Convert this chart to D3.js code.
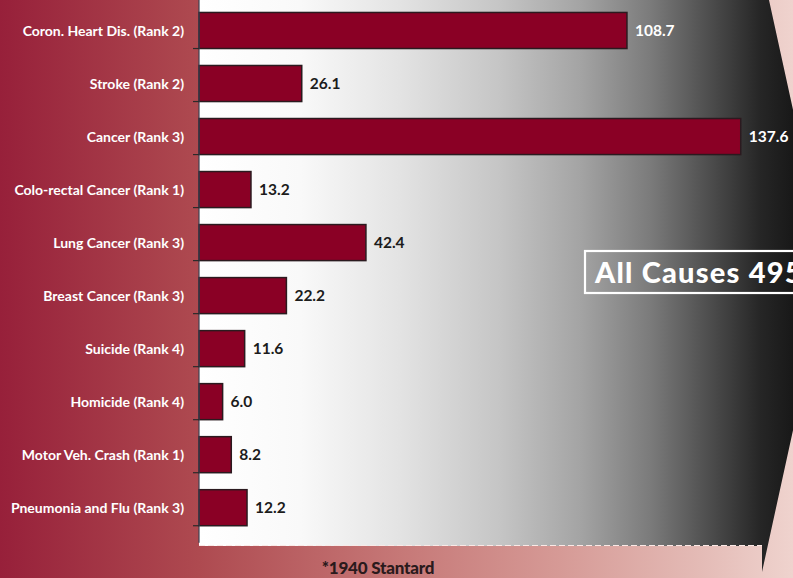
<!DOCTYPE html>
<html>
<head>
<meta charset="utf-8">
<script src="https://cdn.jsdelivr.net/npm/d3@7/dist/d3.min.js"></script>
<style>
  html, body { margin: 0; padding: 0; background: #fff; }
  svg { display: block; font-family: Lato, "Open Sans", sans-serif; }
</style>
</head>
<body>
<svg id="chart" width="793" height="578"></svg>
<script>
// Age-adjusted death rates by cause (per 100,000, 1940 standard)
const causes = [
  "Coron. Heart Dis. (Rank 2)",
  "Stroke (Rank 2)",
  "Cancer (Rank 3)",
  "Colo-rectal Cancer (Rank 1)",
  "Lung Cancer (Rank 3)",
  "Breast Cancer (Rank 3)",
  "Suicide (Rank 4)",
  "Homicide (Rank 4)",
  "Motor Veh. Crash (Rank 1)",
  "Pneumonia and Flu (Rank 3)"
];
const rates = [108.7, 26.1, 137.6, 13.2, 42.4, 22.2, 11.6, 6.0, 8.2, 12.2];
const allCausesLabel = "All Causes 495";
const footnote = "*1940 Stantard";

const W = 793, H = 578;
const plot = { left: 199, right: 762, top: -4.5, bottom: 542.7, floor: 546 };

const svg = d3.select("#chart");
const defs = svg.append("defs");

// page background: crimson fading to pale pink
const bgGrad = defs.append("linearGradient")
  .attr("id", "bgGrad").attr("gradientUnits", "userSpaceOnUse")
  .attr("x1", 0).attr("x2", W).attr("y1", 0).attr("y2", 0);
[[0, "#97203a"], [199, "#ae4a50"], [400, "#c67877"], [560, "#d69a96"],
 [700, "#e4bbb6"], [793, "#efd3ce"]].forEach(([x, c]) =>
  bgGrad.append("stop").attr("offset", x / W).attr("stop-color", c));

// plot panel: white fading to near-black
const panelGrad = defs.append("linearGradient")
  .attr("id", "panelGrad").attr("gradientUnits", "userSpaceOnUse")
  .attr("x1", 0).attr("x2", W).attr("y1", 0).attr("y2", 0);
[[199, "#ffffff"], [300, "#f9f9f9"], [400, "#e3e3e3"], [500, "#c5c5c5"],
 [580, "#a4a4a4"], [650, "#7b7b7b"], [710, "#4d4d4d"], [760, "#262626"],
 [793, "#181818"]].forEach(([x, c]) =>
  panelGrad.append("stop").attr("offset", x / W).attr("stop-color", c));

svg.append("rect").attr("width", W).attr("height", H).attr("fill", "url(#bgGrad)");

// arrow-shaped panel pointing right
const tip = [828, 270];
svg.append("path")
  .attr("d", d3.line()([
    [plot.left, 0], [769, 0], tip, [762, 572], [762, plot.floor], [plot.left, plot.floor]
  ]) + "Z")
  .attr("fill", "url(#panelGrad)");

const x = d3.scaleLinear().domain([0, 143]).range([plot.left, plot.right]);
const y = d3.scaleBand().domain(causes).range([plot.top, plot.bottom]).padding(0.32);

// faint baseline along the bottom of the panel
svg.append("line")
  .attr("x1", plot.left).attr("x2", plot.right)
  .attr("y1", plot.floor - 0.5).attr("y2", plot.floor - 0.5)
  .attr("stroke", "#fbe9e6").attr("stroke-width", 1)
  .attr("stroke-dasharray", "6,3");

// bars
svg.append("g").selectAll("rect")
  .data(causes)
  .join("rect")
  .attr("x", x(0))
  .attr("y", d => y(d))
  .attr("width", (d, i) => x(rates[i]) - x(0))
  .attr("height", y.bandwidth())
  .attr("fill", "#8a0025")
  .attr("stroke", "#2b1a1f")
  .attr("stroke-width", 1.5);

// category axis with ticks at band boundaries
const axisG = svg.append("g");
axisG.append("line")
  .attr("x1", plot.left).attr("x2", plot.left)
  .attr("y1", 0).attr("y2", plot.bottom)
  .attr("stroke", "#3b4150").attr("stroke-width", 1.2);
const bounds = d3.range(1, causes.length + 1).map(i => plot.top + i * y.step());
axisG.selectAll("line.tick")
  .data(bounds)
  .join("line").attr("class", "tick")
  .attr("x1", plot.left - 6).attr("x2", plot.left)
  .attr("y1", d => d).attr("y2", d => d)
  .attr("stroke", "#2a2a2a").attr("stroke-width", 1.2);

// category labels
svg.append("g").selectAll("text")
  .data(causes)
  .join("text")
  .attr("x", 184)
  .attr("y", d => y(d) + y.bandwidth() / 2)
  .attr("dy", "0.36em")
  .attr("text-anchor", "end")
  .attr("fill", "#ffffff")
  .attr("font-size", 14)
  .attr("font-weight", 700)
  .text(d => d);

// value labels
svg.append("g").selectAll("text")
  .data(causes)
  .join("text")
  .attr("x", (d, i) => x(rates[i]) + 8)
  .attr("y", d => y(d) + y.bandwidth() / 2)
  .attr("dy", "0.36em")
  .attr("fill", (d, i) => x(rates[i]) > 560 ? "#ffffff" : "#1c1c1c")
  .attr("font-size", 15.5)
  .attr("font-weight", 700)
  .text((d, i) => rates[i].toFixed(1));

// all-causes callout
svg.append("rect")
  .attr("x", 585).attr("y", 251)
  .attr("width", 260).attr("height", 42)
  .attr("fill", "none")
  .attr("stroke", "#ffffff").attr("stroke-width", 2.2);
svg.append("text")
  .attr("x", 595).attr("y", 283)
  .attr("fill", "#ffffff")
  .attr("font-size", 29)
  .attr("font-weight", 900)
  .attr("letter-spacing", 1.2)
  .text(allCausesLabel);

// footnote
svg.append("text")
  .attr("x", 378).attr("y", 574)
  .attr("text-anchor", "middle")
  .attr("fill", "#2a1a1c")
  .attr("font-size", 17)
  .attr("font-weight", 900)
  .attr("letter-spacing", -0.2)
  .text(footnote);
</script>
</body>
</html>
